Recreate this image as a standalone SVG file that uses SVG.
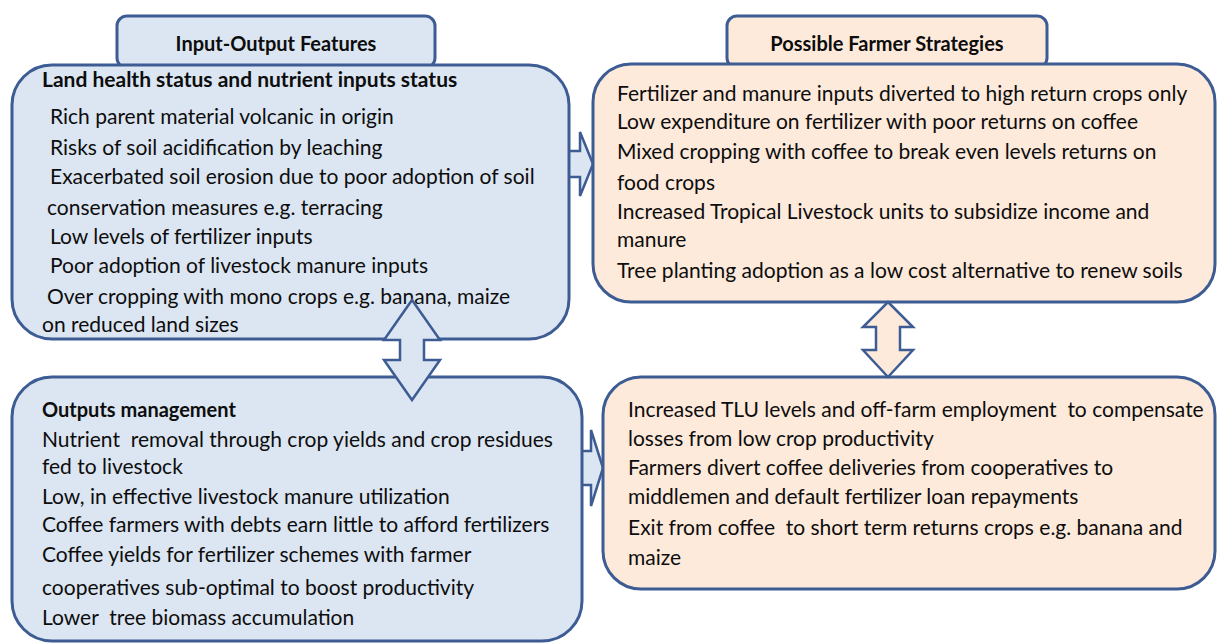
<svg xmlns="http://www.w3.org/2000/svg" width="1218" height="643" viewBox="0 0 1218 643">
  <style>
    .blue { fill: #dce6f2; stroke: #3d5c93; stroke-width: 3; }
    .peach { fill: #fdeadb; stroke: #3d5c93; stroke-width: 3; }
    .arrow-blue { fill: #dce6f2; stroke: #3d5c93; stroke-width: 2.5; stroke-linejoin: miter; }
    .arrow-peach { fill: #fdeadb; stroke: #3d5c93; stroke-width: 2.5; stroke-linejoin: miter; }
    text { font-family: Lato, "Liberation Sans", sans-serif; font-size: 21px; fill: #0d0d0d; }
    .head { font-weight: bold; font-size: 20px; }
    .bold { font-weight: bold; font-size: 21px; }
    .bold-small { font-weight: bold; font-size: 20px; }
  </style>
  <rect width="1218" height="643" fill="#ffffff"/>

  <!-- horizontal block arrows sit behind the boxes; only the gap part shows -->
  <g id="connectors-behind">
    <path class="arrow-blue" d="M540,151 L580,151 L580,132 L593,164 L580,196 L580,177 L540,177 Z"/>
    <path class="arrow-blue" d="M550,451 L591,451 L591,430 L603,468 L591,506 L591,485 L550,485 Z"/>
  </g>

  <g id="header-inputs">
    <rect class="blue" x="117" y="16" width="318" height="52" rx="10"/>
    <text class="head" x="276" y="51" text-anchor="middle">Input-Output Features</text>
  </g>
  <g id="header-strategies">
    <rect class="peach" x="727" y="16" width="320" height="52" rx="10"/>
    <text class="head" x="887" y="51" text-anchor="middle">Possible Farmer Strategies</text>
  </g>

  <g id="land-health">
    <rect class="blue" x="12" y="65" width="557" height="274" rx="40"/>
    <text class="bold" x="42" y="87">Land health status and nutrient inputs status</text>
    <text x="50" y="124">Rich parent material volcanic in origin</text>
    <text x="50" y="155">Risks of soil acidification by leaching</text>
    <text x="50" y="184">Exacerbated soil erosion due to poor adoption of soil</text>
    <text x="47" y="215">conservation measures e.g. terracing</text>
    <text x="50" y="244">Low levels of fertilizer inputs</text>
    <text x="50" y="273">Poor adoption of livestock manure inputs</text>
    <text x="47" y="304">Over cropping with mono crops e.g. banana, maize</text>
    <text x="42" y="332">on reduced land sizes</text>
  </g>

  <g id="strategies-inputs">
    <rect class="peach" x="593" y="64" width="622" height="238" rx="38"/>
    <text x="617" y="101">Fertilizer and manure inputs diverted to high return crops only</text>
    <text x="617" y="129">Low expenditure on fertilizer with poor returns on coffee</text>
    <text x="617" y="159">Mixed cropping with coffee to break even levels returns on</text>
    <text x="617" y="190">food crops</text>
    <text x="617" y="219">Increased Tropical Livestock units to subsidize income and</text>
    <text x="617" y="247">manure</text>
    <text x="617" y="278">Tree planting adoption as a low cost alternative to renew soils</text>
  </g>

  <g id="outputs-management">
    <rect class="blue" x="12" y="377" width="570" height="264" rx="40"/>
    <text class="bold-small" x="42" y="417">Outputs management</text>
    <text x="42" y="447" xml:space="preserve">Nutrient  removal through crop yields and crop residues</text>
    <text x="42" y="474">fed to livestock</text>
    <text x="42" y="504">Low, in effective livestock manure utilization</text>
    <text x="42" y="532">Coffee farmers with debts earn little to afford fertilizers</text>
    <text x="42" y="562">Coffee yields for fertilizer schemes with farmer</text>
    <text x="42" y="595">cooperatives sub-optimal to boost productivity</text>
    <text x="42" y="625" xml:space="preserve">Lower  tree biomass accumulation</text>
  </g>

  <g id="strategies-outputs">
    <rect class="peach" x="603" y="377" width="612" height="212" rx="38"/>
    <text x="628" y="417" xml:space="preserve">Increased TLU levels and off-farm employment  to compensate</text>
    <text x="628" y="446">losses from low crop productivity</text>
    <text x="628" y="475">Farmers divert coffee deliveries from cooperatives to</text>
    <text x="628" y="504">middlemen and default fertilizer loan repayments</text>
    <text x="628" y="535" xml:space="preserve">Exit from coffee  to short term returns crops e.g. banana and</text>
    <text x="628" y="565">maize</text>
  </g>

  <!-- vertical double arrows drawn over the boxes -->
  <g id="connectors">
    <path class="arrow-blue" d="M412,300 L440,340 L424,340 L424,360 L440,360 L412,400 L384,360 L400,360 L400,340 L384,340 Z"/>
    <path class="arrow-peach" d="M888,302 L913,327 L900,327 L900,350 L913,350 L888,377 L863,350 L876,350 L876,327 L863,327 Z"/>
  </g>
</svg>
